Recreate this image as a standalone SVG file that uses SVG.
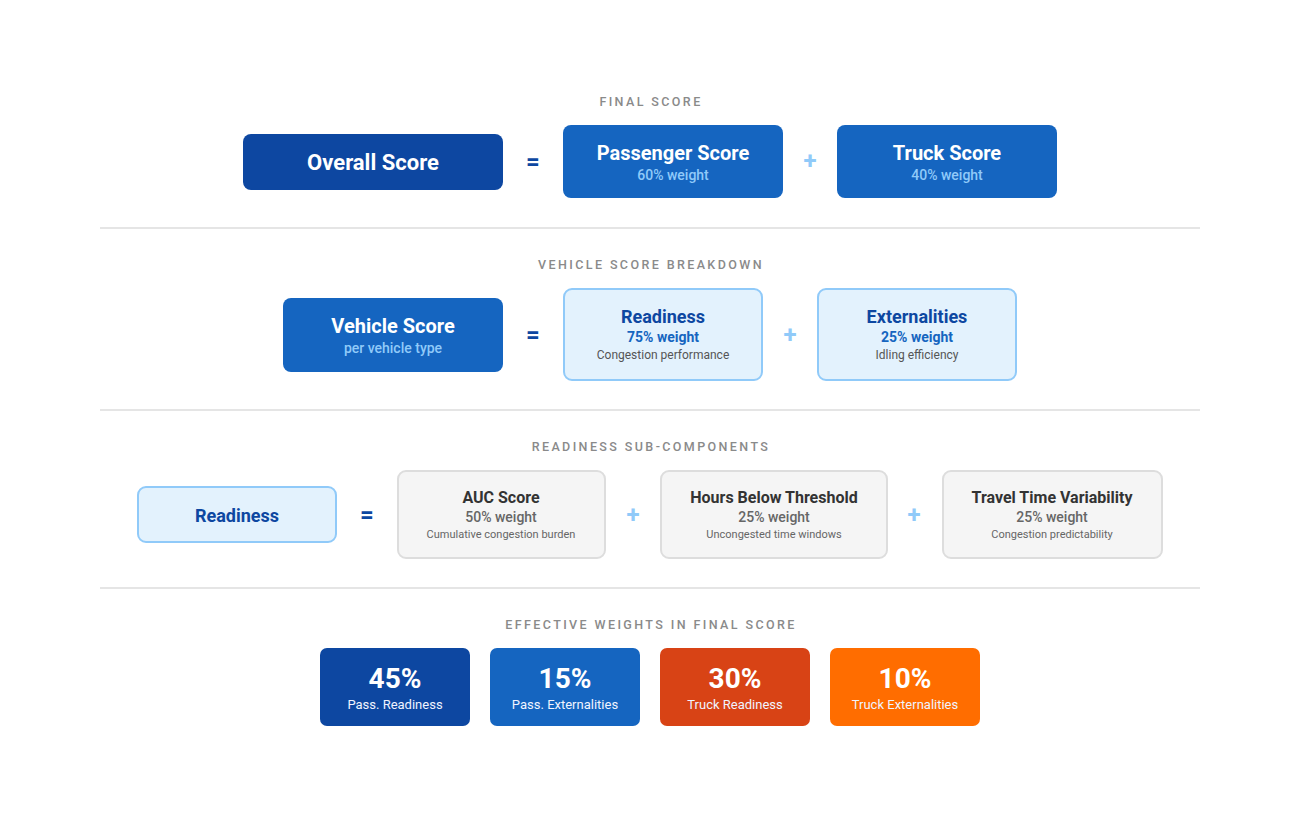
<svg xmlns="http://www.w3.org/2000/svg" width="1300" height="820" viewBox="0 0 1300 820">
<style>
text{font-family:Roboto,"Liberation Sans",sans-serif;text-anchor:middle;dominant-baseline:central}
.sec{font-size:12.5px;font-weight:500;fill:#8a8a8a;letter-spacing:2.4px}
.op{font-size:24px;font-weight:700}
.eq{fill:#0d47a1}
.pl{fill:#90caf9}
.t1{font-size:22px;font-weight:700;fill:#fff}
.t2{font-size:20px;font-weight:700;fill:#fff}
.s1{font-size:14px;font-weight:500;fill:#90caf9}
.lb{fill:#e3f2fd;stroke:#90caf9;stroke-width:2}
.lt{font-size:18px;font-weight:700;fill:#0d47a1}
.lw{font-size:14px;font-weight:700;fill:#1565c0}
.ld{font-size:12px;fill:#555}
.gb{fill:#f5f5f5;stroke:#ddd;stroke-width:2}
.gt{font-size:16px;font-weight:700;fill:#333}
.gw{font-size:14px;font-weight:500;fill:#666}
.gd{font-size:11px;fill:#666}
.pc{font-size:28px;font-weight:700;fill:#fff}
.pd{font-size:13px;fill:#f0f4ff}
.sep{stroke:#ddd;stroke-width:1.5}
</style>
<rect width="1300" height="820" fill="#fff"/>

<g id="sections">
<text class="sec" x="651" y="101">FINAL SCORE</text>
<line class="sep" x1="100" y1="228" x2="1200" y2="228"/>
<text class="sec" x="651" y="264">VEHICLE SCORE BREAKDOWN</text>
<line class="sep" x1="100" y1="410" x2="1200" y2="410"/>
<text class="sec" x="651" y="446">READINESS SUB-COMPONENTS</text>
<line class="sep" x1="100" y1="588" x2="1200" y2="588"/>
<text class="sec" x="651" y="624">EFFECTIVE WEIGHTS IN FINAL SCORE</text>
</g>

<g id="connectors">
<text class="op eq" x="533" y="162">=</text>
<text class="op pl" x="810" y="161">+</text>
<text class="op eq" x="533" y="335">=</text>
<text class="op pl" x="790" y="335">+</text>
<text class="op eq" x="367" y="515">=</text>
<text class="op pl" x="633" y="515">+</text>
<text class="op pl" x="914" y="515">+</text>
</g>

<g id="overall">
<rect x="243" y="134" width="260" height="56" rx="8" fill="#0d47a1"/>
<text class="t1" x="373" y="162">Overall Score</text>
</g>
<g id="passenger">
<rect x="563" y="125" width="220" height="73" rx="8" fill="#1565c0"/>
<text class="t2" x="673" y="153">Passenger Score</text>
<text class="s1" x="673" y="175">60% weight</text>
</g>
<g id="truck">
<rect x="837" y="125" width="220" height="73" rx="8" fill="#1565c0"/>
<text class="t2" x="947" y="153">Truck Score</text>
<text class="s1" x="947" y="175">40% weight</text>
</g>

<g id="vehicle">
<rect x="283" y="298" width="220" height="74" rx="8" fill="#1565c0"/>
<text class="t2" x="393" y="326">Vehicle Score</text>
<text class="s1" x="393" y="348">per vehicle type</text>
</g>
<g id="readiness1">
<rect class="lb" x="564" y="289" width="198" height="91" rx="8"/>
<text class="lt" x="663" y="316">Readiness</text>
<text class="lw" x="663" y="337">75% weight</text>
<text class="ld" x="663" y="355">Congestion performance</text>
</g>
<g id="externalities">
<rect class="lb" x="818" y="289" width="198" height="91" rx="8"/>
<text class="lt" x="917" y="316">Externalities</text>
<text class="lw" x="917" y="337">25% weight</text>
<text class="ld" x="917" y="355">Idling efficiency</text>
</g>

<g id="readiness2">
<rect class="lb" x="138" y="487" width="198" height="55" rx="8"/>
<text class="lt" x="237" y="515">Readiness</text>
</g>
<g id="auc">
<rect class="gb" x="398" y="471" width="207" height="87" rx="8"/>
<text class="gt" x="501" y="497">AUC Score</text>
<text class="gw" x="501" y="517">50% weight</text>
<text class="gd" x="501" y="534">Cumulative congestion burden</text>
</g>
<g id="hours">
<rect class="gb" x="661" y="471" width="226" height="87" rx="8"/>
<text class="gt" x="774" y="497">Hours Below Threshold</text>
<text class="gw" x="774" y="517">25% weight</text>
<text class="gd" x="774" y="534">Uncongested time windows</text>
</g>
<g id="travel">
<rect class="gb" x="943" y="471" width="219" height="87" rx="8"/>
<text class="gt" x="1052" y="497">Travel Time Variability</text>
<text class="gw" x="1052" y="517">25% weight</text>
<text class="gd" x="1052" y="534">Congestion predictability</text>
</g>

<g id="w45">
<rect x="320" y="648" width="150" height="78" rx="7" fill="#0d47a1"/>
<text class="pc" x="395" y="678">45%</text>
<text class="pd" x="395" y="704">Pass. Readiness</text>
</g>
<g id="w15">
<rect x="490" y="648" width="150" height="78" rx="7" fill="#1565c0"/>
<text class="pc" x="565" y="678">15%</text>
<text class="pd" x="565" y="704">Pass. Externalities</text>
</g>
<g id="w30">
<rect x="660" y="648" width="150" height="78" rx="7" fill="#d84315"/>
<text class="pc" x="735" y="678">30%</text>
<text class="pd" x="735" y="704">Truck Readiness</text>
</g>
<g id="w10">
<rect x="830" y="648" width="150" height="78" rx="7" fill="#ff6d00"/>
<text class="pc" x="905" y="678">10%</text>
<text class="pd" x="905" y="704">Truck Externalities</text>
</g>
</svg>
